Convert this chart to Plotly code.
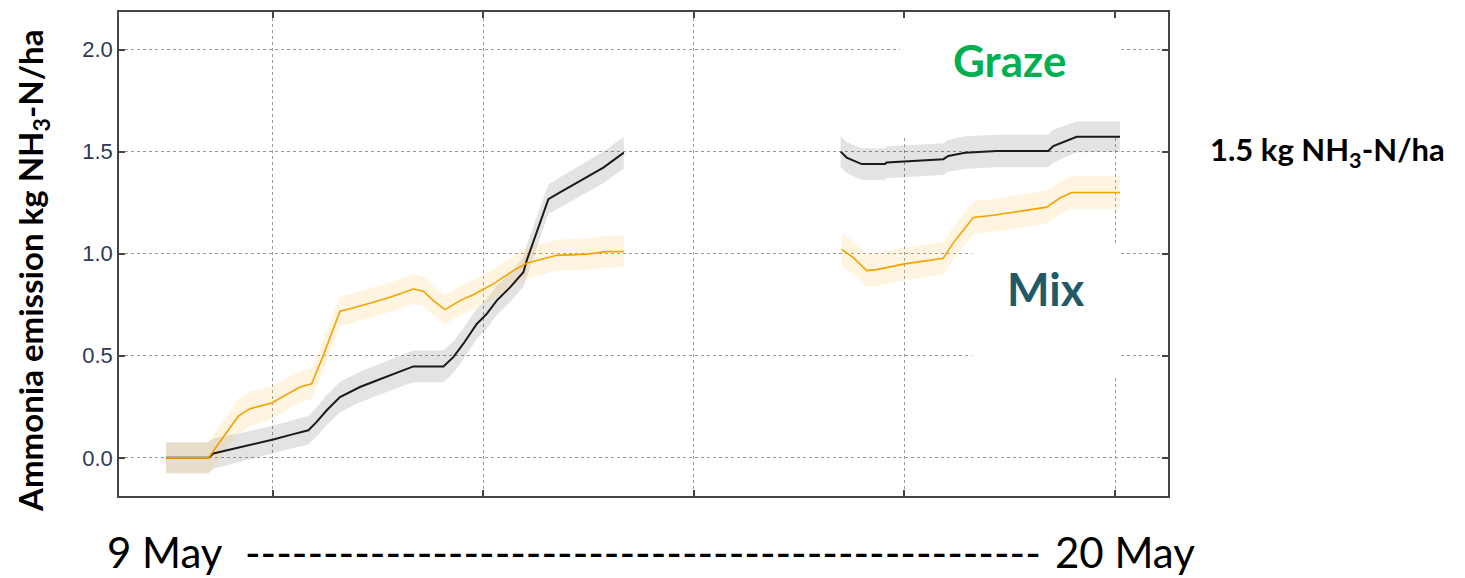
import plotly.graph_objects as go

# ---- data (days since 9 May, cumulative NH3-N kg/ha) ----
graze_x = [0.0, 0.489, 0.547, 0.894, 1.240, 1.471, 1.645, 1.741, 1.857, 2.010, 2.241, 2.434,
           2.627, 2.858, 3.205, 3.320, 3.436, 3.590, 3.706, 3.821, 3.975, 4.129, 4.167, 4.283,
           4.418, 4.552, 4.783, 5.053, 5.29,
           None,
           7.795, 7.864, 8.038, 8.307, 8.326, 8.634, 8.981, 9.039, 9.231, 9.597, 10.194, 10.252,
           10.406, 10.522, 11.022]
graze_y = [0.0, 0.0, 0.021, 0.054, 0.090, 0.116, 0.135, 0.176, 0.233, 0.298, 0.347, 0.379,
           0.412, 0.448, 0.448, 0.493, 0.559, 0.656, 0.705, 0.770, 0.835, 0.909, 0.966, 1.104,
           1.267, 1.300, 1.357, 1.422, 1.495,
           None,
           1.500, 1.471, 1.439, 1.439, 1.447, 1.455, 1.463, 1.479, 1.495, 1.503, 1.503, 1.527,
           1.553, 1.573, 1.573]
graze_se = [0.075, 0.075, 0.075, 0.07, 0.068, 0.068, 0.07, 0.072, 0.074, 0.075, 0.075, 0.076,
            0.077, 0.078, 0.078, 0.078, 0.076, 0.074, 0.072, 0.072, 0.072, 0.072, 0.075, 0.075,
            0.072, 0.074, 0.076, 0.077, 0.078,
            None,
            0.075, 0.076, 0.078, 0.078, 0.078, 0.078, 0.078, 0.078, 0.08, 0.08, 0.08, 0.08,
            0.078, 0.076, 0.075]

mix_x = [0.0, 0.489, 0.836, 0.971, 1.221, 1.395, 1.548, 1.683, 1.818, 2.010, 2.126, 2.395,
         2.588, 2.858, 2.973, 3.089, 3.224, 3.397, 3.532, 3.782, 4.013, 4.167, 4.360, 4.514,
         4.861, 5.092, 5.29,
         None,
         7.807, 7.942, 8.096, 8.211, 8.519, 8.711, 8.981, 9.097, 9.328, 9.559, 9.867, 10.175,
         10.329, 10.464, 11.022]
mix_y = [0.0, 0.0, 0.204, 0.241, 0.269, 0.311, 0.347, 0.363, 0.502, 0.718, 0.730, 0.762,
         0.787, 0.827, 0.816, 0.770, 0.726, 0.770, 0.795, 0.852, 0.917, 0.953, 0.974, 0.992,
         0.998, 1.010, 1.011,
         None,
         1.021, 0.981, 0.917, 0.922, 0.949, 0.960, 0.978, 1.053, 1.177, 1.188, 1.208, 1.228,
         1.273, 1.300, 1.300]
mix_se = [0.075, 0.075, 0.085, 0.085, 0.08, 0.078, 0.076, 0.075, 0.075, 0.072, 0.072, 0.072,
          0.072, 0.072, 0.072, 0.072, 0.072, 0.072, 0.072, 0.072, 0.074, 0.075, 0.075, 0.076,
          0.077, 0.078, 0.078,
          None,
          0.08, 0.08, 0.08, 0.08, 0.08, 0.08, 0.08, 0.08, 0.08, 0.08, 0.08, 0.08,
          0.08, 0.08, 0.08]

y_ticks = [0.0, 0.5, 1.0, 1.5, 2.0]
y_tick_text = ["0.0", "0.5", "1.0", "1.5", "2.0"]
x_grid = [1.236, 3.668, 6.100, 8.530, 10.97]


def segments(xs, ys, ss):
    segs, cur = [], []
    for x, y, s in zip(xs, ys, ss):
        if x is None:
            if cur:
                segs.append(cur)
            cur = []
        else:
            cur.append((x, y, s))
    if cur:
        segs.append(cur)
    return segs


fig = go.Figure()

bands = [
    (graze_x, graze_y, graze_se, "rgba(0,0,0,0.11)"),
    (mix_x, mix_y, mix_se, "rgba(255,195,80,0.18)"),
]
for xs, ys, ss, col in bands:
    for seg in segments(xs, ys, ss):
        px = [p[0] for p in seg] + [p[0] for p in seg[::-1]]
        py = [p[1] + p[2] for p in seg] + [p[1] - p[2] for p in seg[::-1]]
        fig.add_trace(go.Scatter(x=px, y=py, fill="toself", fillcolor=col,
                                 line=dict(width=0), mode="lines",
                                 hoverinfo="skip", showlegend=False))

fig.add_trace(go.Scatter(x=graze_x, y=graze_y, mode="lines", connectgaps=False,
                         line=dict(color="#1a1a1a", width=2), showlegend=False))
fig.add_trace(go.Scatter(x=mix_x, y=mix_y, mode="lines", connectgaps=False,
                         line=dict(color="#f5a200", width=1.6), showlegend=False))

# white boxes behind labels (cover gridlines)
fig.add_shape(type="rect", xref="x", yref="y", x0=8.48, x1=11.02, y0=1.574, y1=2.17,
              fillcolor="white", line=dict(width=0), layer="between")
fig.add_shape(type="rect", xref="x", yref="y", x0=9.31, x1=11.02, y0=0.404, y1=1.047,
              fillcolor="white", line=dict(width=0), layer="between")

bold = "Lato"
fig.add_annotation(text="<b>Graze</b>", x=9.75, y=1.95, xref="x", yref="y", showarrow=False,
                   xanchor="center", yanchor="middle",
                   font=dict(family=bold, size=44, color="#00b050"))
fig.add_annotation(text="<b>Mix</b>", x=10.17, y=0.828, xref="x", yref="y", showarrow=False,
                   xanchor="center", yanchor="middle",
                   font=dict(family=bold, size=45, color="#215967"))
fig.add_annotation(text="<b>1.5 kg NH<sub>3</sub>-N/ha</b>", x=(1208 - 119) / 1049, y=1.5,
                   xref="paper", yref="y", xanchor="left", yanchor="middle", showarrow=False,
                   font=dict(family=bold, size=31, color="#000000"))
fig.add_annotation(text="<b>Ammonia emission kg NH<sub>3</sub>-N/ha</b>",
                   x=(33 - 119) / 1049, y=(496 - 270) / 486,
                   xref="paper", yref="paper", textangle=-90, showarrow=False,
                   xanchor="center", yanchor="middle",
                   font=dict(family=bold, size=33, color="#000000"))
yb = (496 - 552) / 486
fig.add_annotation(text="9 May", x=(105 - 119) / 1049, y=yb, xref="paper", yref="paper",
                   xanchor="left", yanchor="middle", showarrow=False,
                   font=dict(family="Lato", size=42, color="#000000"))
fig.add_annotation(text="-" * 51, x=(643 - 119) / 1049, y=yb, xref="paper", yref="paper",
                   xanchor="center", yanchor="middle", showarrow=False,
                   font=dict(family="Lato", size=42, color="#000000"))
fig.add_annotation(text="20 May", x=(1197 - 119) / 1049, y=yb, xref="paper", yref="paper",
                   xanchor="right", yanchor="middle", showarrow=False,
                   font=dict(family="Lato", size=42, color="#000000"))

axis_common = dict(showline=True, linecolor="#444444", linewidth=1.5, mirror="allticks",
                   ticks="inside", ticklen=6, tickcolor="#444444", tickwidth=1.5,
                   showgrid=True, gridcolor="#9a9a9a", gridwidth=1, griddash="dot",
                   zeroline=False)

fig.update_xaxes(range=[-0.543, 11.577], tickmode="array", tickvals=x_grid,
                 showticklabels=False, **axis_common)
fig.update_yaxes(range=[-0.187, 2.184], tickmode="array", tickvals=y_ticks,
                 ticktext=y_tick_text,
                 tickfont=dict(family="Liberation Sans Narrow, Arial Narrow, sans-serif",
                               size=22, color="#2d3a55"),
                 **axis_common)

# page has an 8px body margin: margins are set so the plot lands where the reference has it
fig.update_layout(width=1465, height=578, plot_bgcolor="white", paper_bgcolor="white",
                  margin=dict(l=111, r=305, t=2, b=90), showlegend=False)

fig.write_html("out.html")
